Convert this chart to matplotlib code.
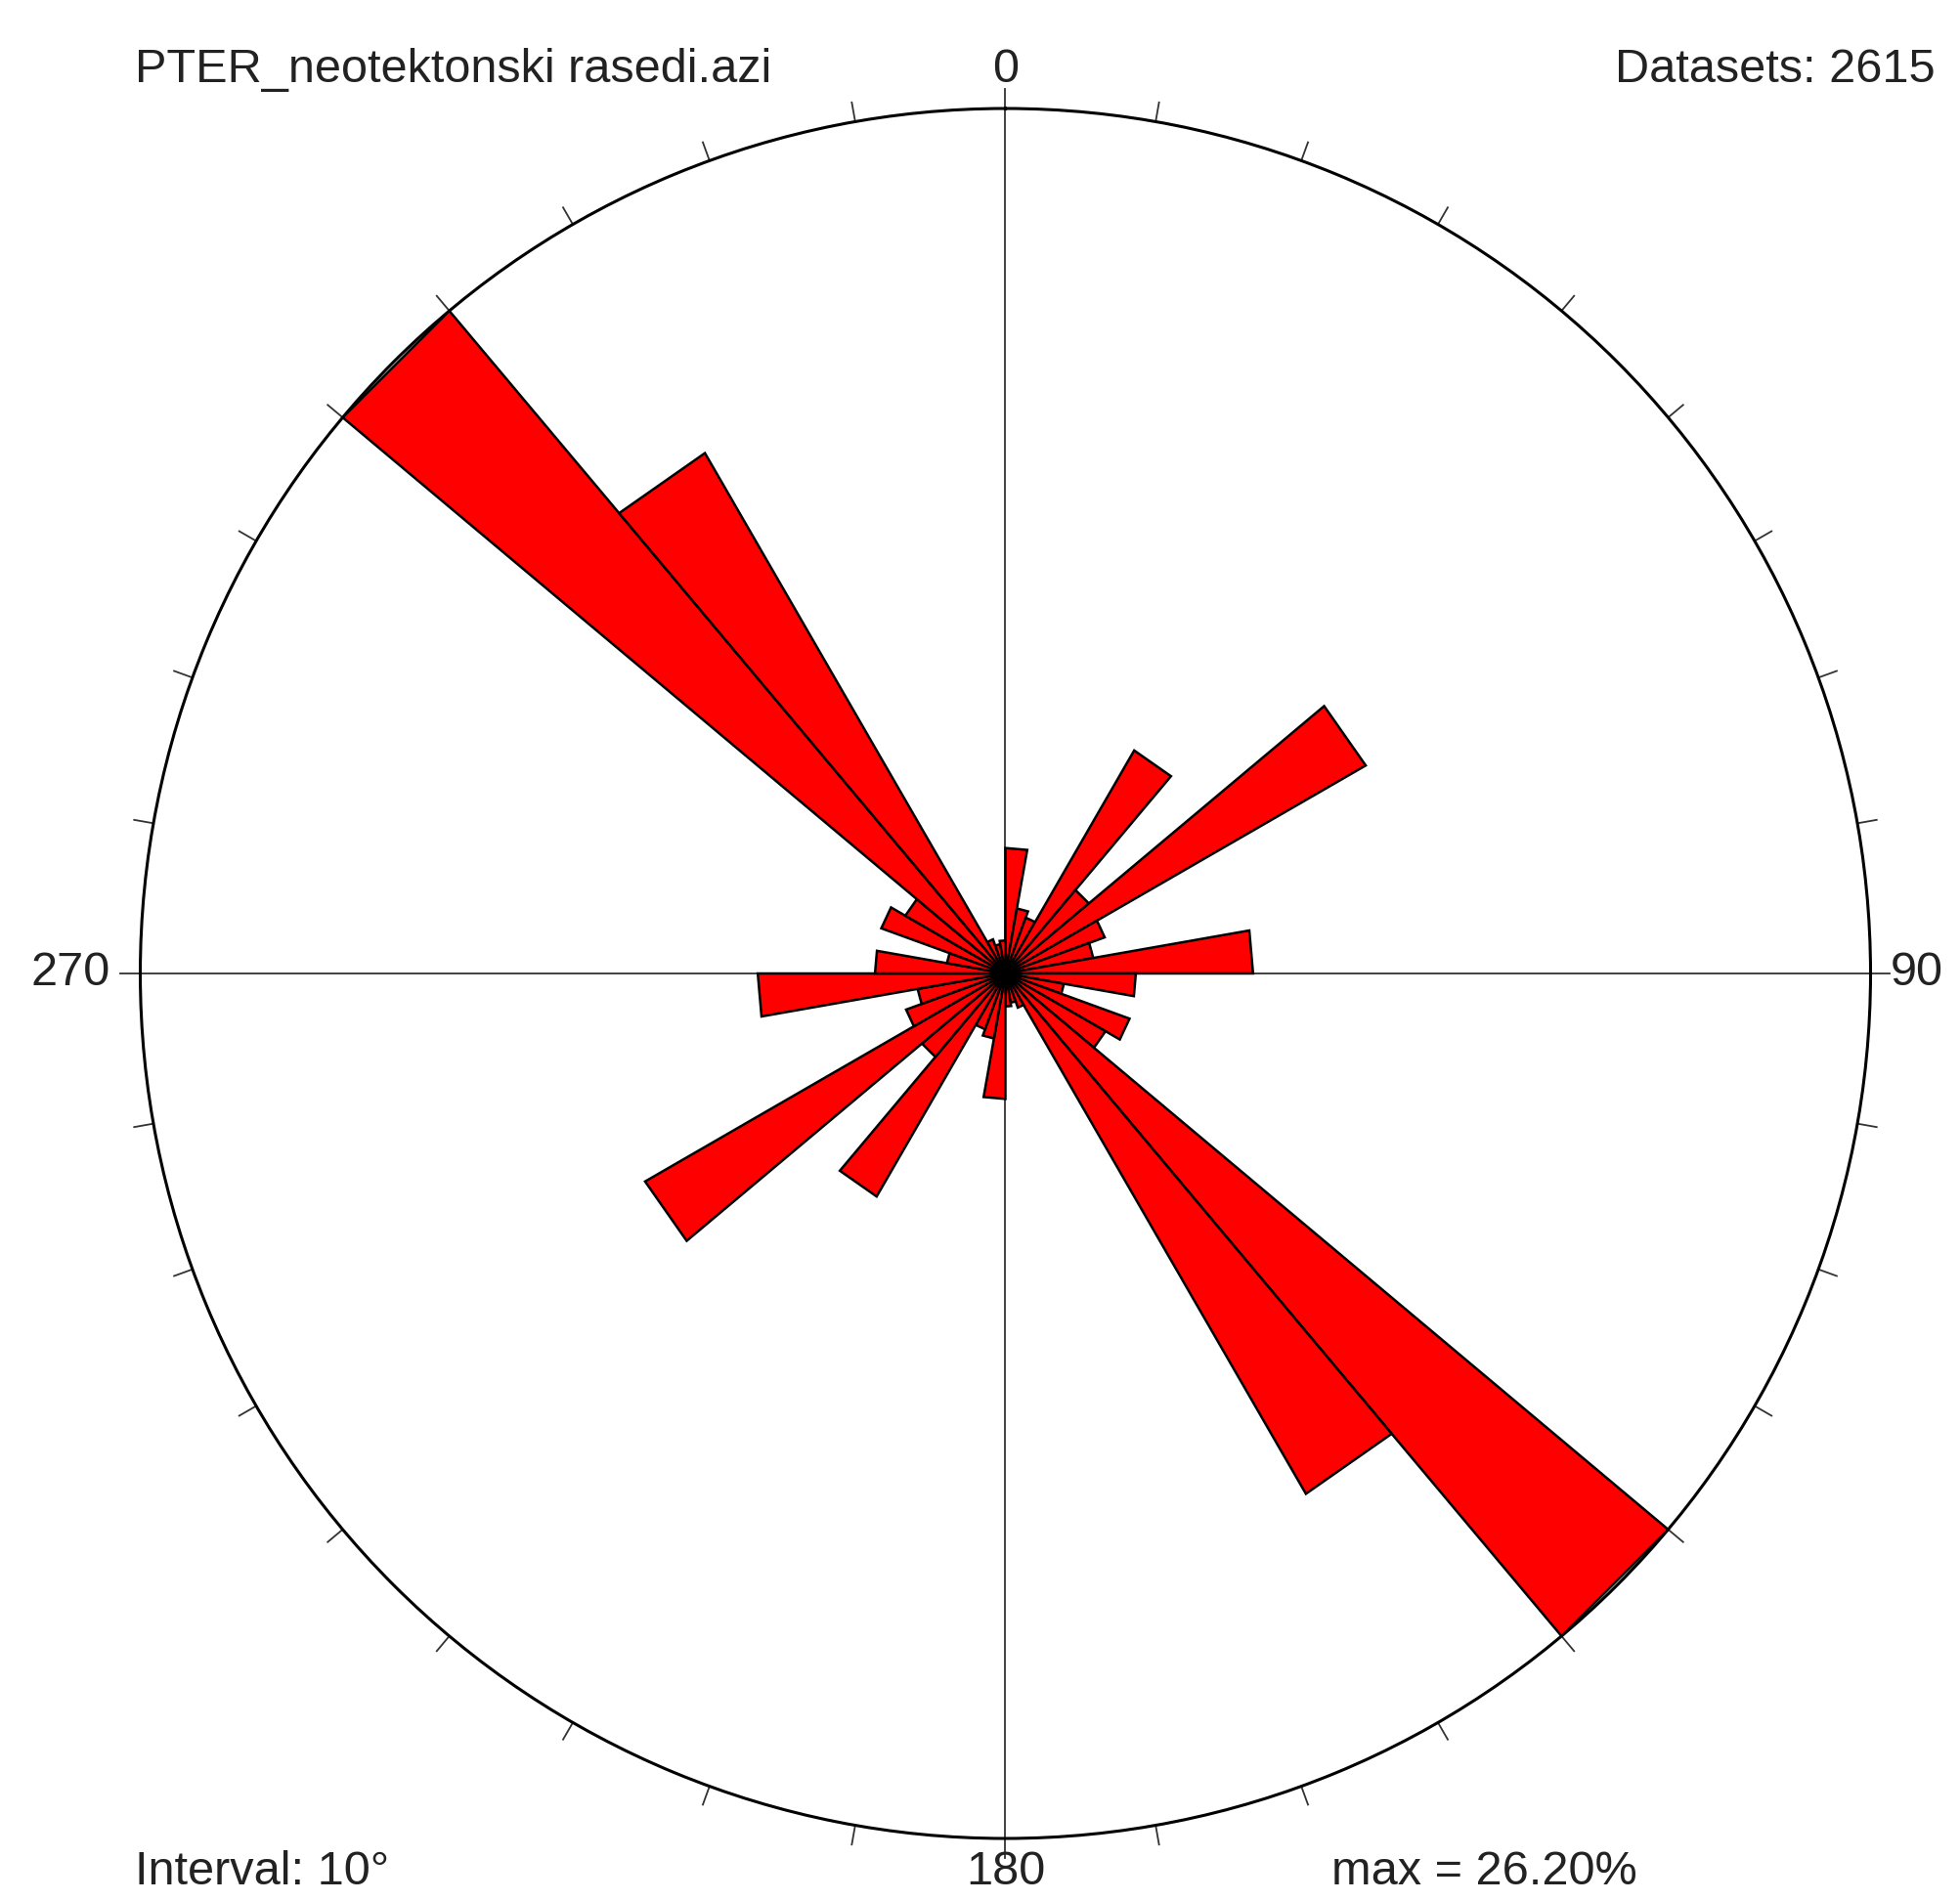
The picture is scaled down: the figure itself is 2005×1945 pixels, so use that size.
import numpy as np
import matplotlib
matplotlib.use("Agg")
import matplotlib.pyplot as plt

plt.rcParams['font.family'] = ['Liberation Sans', 'DejaVu Sans']

# percent per 10 degree bin, 0-180 (mirrored for 180-360, axial data)
bin_start = list(range(0, 180, 10))
freq = [3.8, 2.0, 1.8, 7.8, 3.3, 12.6, 3.2, 2.7, 7.5,
        3.95, 1.8, 4.0, 3.5, 26.2, 18.2, 1.1, 0.9, 1.0]
max_pct = 26.20
n_data = 2615
interval = 10
title = "PTER_neotektonski rasedi.azi"

W, H = 2006, 1945
fig = plt.figure(figsize=(W / 100, H / 100), dpi=100)
fig.patch.set_facecolor('white')

# centre of the rose in pixels and its radius
cx, cy, R = 1028.5, 996, 885
ax = fig.add_axes([(cx - R) / W, 1 - (cy + R) / H, 2 * R / W, 2 * R / H], projection='polar')
ax.set_theta_zero_location('N')
ax.set_theta_direction(-1)
ax.set_ylim(0, max_pct)
ax.grid(False)
ax.set_xticks([])
ax.set_yticks([])
ax.spines['polar'].set_linewidth(2.2)
ax.spines['polar'].set_color('black')

starts = bin_start + [b + 180 for b in bin_start]
vals = freq + freq
# petals with straight outer edge (triangles from the centre)
for s, v in zip(starts, vals):
    t0, t1 = np.deg2rad(s), np.deg2rad(s + interval)
    ax.fill([0, t0, t1], [0, v, v], facecolor='#ff0000', edgecolor='black',
            linewidth=1.8, joinstyle='miter', zorder=3)

tick_len = 20 / R * max_pct
for a in range(0, 360, 10):
    t = np.deg2rad(a)
    r0 = 0 if a % 90 == 0 else max_pct
    ax.plot([t, t], [r0, max_pct + tick_len], color='#333333', lw=1.3, zorder=2, clip_on=False)

fs = 35
def px(x, y):
    return x / W, 1 - y / H

fig.text(*px(138, 72), title, fontsize=fs, ha='left', va='center', color='#222222')
fig.text(*px(cx, 72), "0", fontsize=fs, ha='center', va='center', color='#222222')
fig.text(*px(1980, 72), "Datasets: %d" % n_data, fontsize=fs, ha='right', va='center', color='#222222')
fig.text(*px(113, cy), "270", fontsize=fs, ha='right', va='center', color='#222222')
fig.text(*px(1934, cy), "90", fontsize=fs, ha='left', va='center', color='#222222')
fig.text(*px(138, 1915), "Interval: %d°" % interval, fontsize=fs, ha='left', va='center', color='#222222')
fig.text(*px(cx, 1915), "180", fontsize=fs, ha='center', va='center', color='#222222')
fig.text(*px(1362, 1915), "max = %.2f%%" % max_pct, fontsize=fs, ha='left', va='center', color='#222222')

fig.savefig('out.png', dpi=100, facecolor='white')
